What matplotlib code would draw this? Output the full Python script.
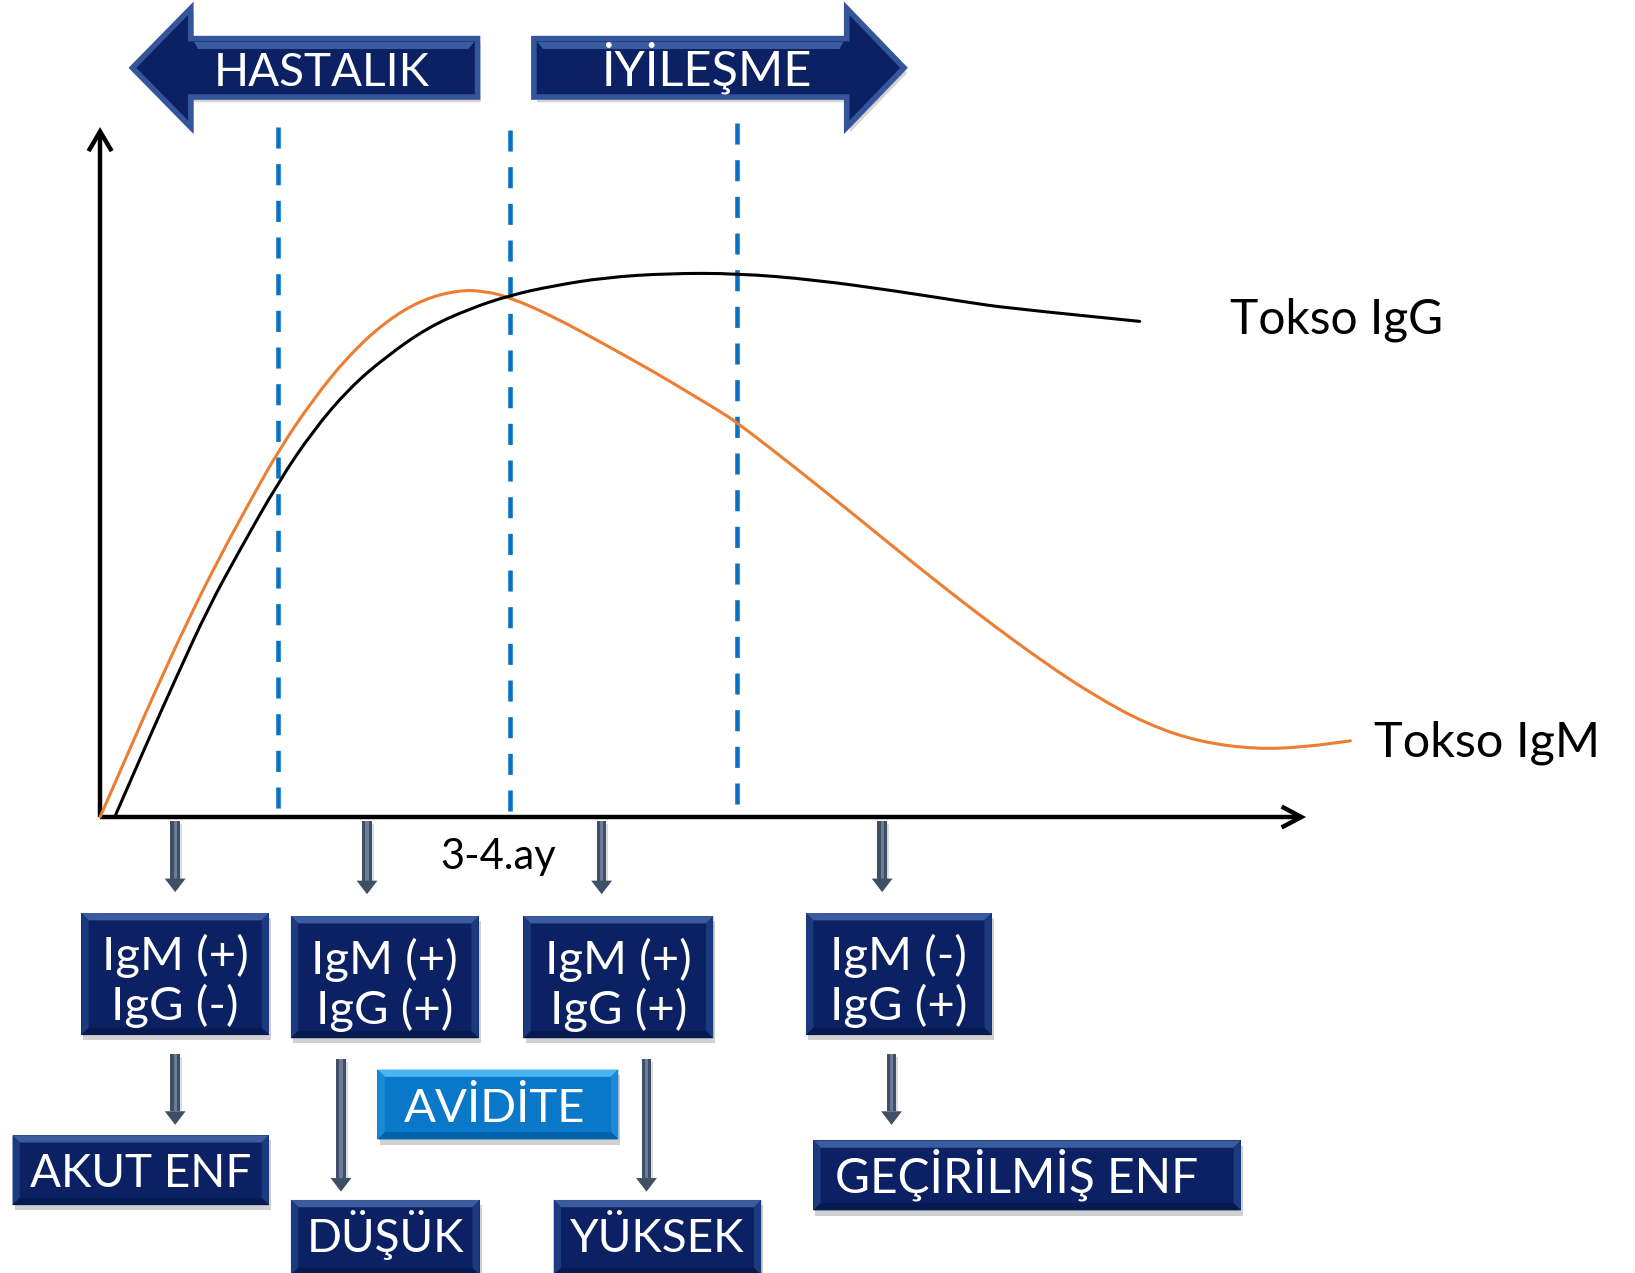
import matplotlib
matplotlib.use("Agg")
import matplotlib.pyplot as plt
from matplotlib.patches import Polygon, Rectangle, PathPatch
from matplotlib.path import Path

plt.rcParams['font.family'] = ['Lato', 'DejaVu Sans']

# ---------------- data (schematic coordinates, y grows downward) ----------------
igm_x = [96, 120, 150, 180, 210, 240, 267, 300, 335, 370, 405, 440, 465, 489, 530, 580, 630,
         660, 690, 707, 760, 820, 880, 940, 1000, 1050, 1100, 1150, 1205, 1250, 1295]
igm_y = [783, 728, 660, 595, 535, 480, 432, 383, 340, 308, 287, 278, 279, 285, 303, 330, 358,
         376, 394, 405, 446, 494, 543, 590, 634, 667, 694, 711, 718, 716, 710]

igg_x = [110, 140, 170, 200, 230, 267, 300, 335, 370, 410, 450, 489, 530, 580, 640, 707,
         780, 860, 930, 965, 1093]
igg_y = [783, 714, 647, 582, 527, 462, 413, 372, 342, 314, 296, 283, 274, 266, 262, 262,
         268, 279, 290, 295, 308]

phase_lines_x = [267, 489, 707]
phase_lines_top = [122, 125, 118]

curve_labels = ["Tokso IgG", "Tokso IgM"]
x_label = "3-4.ay"

phase_labels = ["HASTALIK", "İYİLEŞME"]

result_boxes = [  # (x0, y0, x1, y1, line1, line2)
    (78, 875, 258, 992, "IgM (+)", "IgG (-)"),
    (279, 878, 459, 995, "IgM (+)", "IgG (+)"),
    (502, 878, 684, 995, "IgM (+)", "IgG (+)"),
    (773, 875, 951, 992, "IgM (-)", "IgG (+)"),
]
outcome_boxes = [  # (x0, y0, x1, y1, text, text_center_x, fontsize)
    (12, 1088, 258, 1155, "AKUT ENF", 135, 33),
    (279, 1150, 460, 1222, "DÜŞÜK", 370, 33),
    (531, 1150, 730, 1222, "YÜKSEK", 630, 33),
    (780, 1093, 1190, 1160, "GEÇİRİLMİŞ ENF", 975, 34.5),
]
avidity_box = (362, 1025, 593, 1092, "AVİDİTE")

down_arrows = [  # (x, y_start, y_end)
    (168, 787, 855), (352, 787, 857), (577, 787, 857), (846, 787, 855),
    (168, 1010, 1078), (327, 1015, 1142), (620, 1015, 1142), (855, 1010, 1078),
]

W, H = 1568, 1220
fig = plt.figure(figsize=(16.35, 12.73), dpi=100)
ax = fig.add_axes([0, 0, 1, 1])
ax.set_xlim(0, W)
ax.set_ylim(H, 0)
ax.axis('off')

NAVY = '#0b2163'


def smooth_curve(xs, ys, color, lw, z):
    verts = [(xs[0], ys[0])]
    codes = [Path.MOVETO]
    for i in range(1, len(xs) - 1):
        verts.append((xs[i], ys[i]))
        verts.append(((xs[i] + xs[i + 1]) / 2, (ys[i] + ys[i + 1]) / 2))
        codes += [Path.CURVE3, Path.CURVE3]
    verts.append((xs[-1], ys[-1]))
    codes.append(Path.LINETO)
    ax.add_patch(PathPatch(Path(verts, codes), facecolor='none', edgecolor=color, lw=lw,
                           capstyle='round', zorder=z))


def bevel_box(x0, y0, x1, y1, face=NAVY, top='#3a5ba0', side='#1b3a80', bottom='#071a50', b=7):
    ax.add_patch(Rectangle((x0 + 2, y0 + 5), x1 - x0, y1 - y0, color='#9a9a9a', alpha=0.45, lw=0, zorder=3))
    ax.add_patch(Rectangle((x0, y0), x1 - x0, y1 - y0, color=face, lw=0, zorder=4))
    ax.add_patch(Polygon([(x0, y0), (x1, y0), (x1 - b, y0 + b), (x0 + b, y0 + b)], closed=True, color=top, lw=0, zorder=5))
    ax.add_patch(Polygon([(x0, y0), (x0 + b, y0 + b), (x0 + b, y1 - b), (x0, y1)], closed=True, color=side, lw=0, zorder=5))
    ax.add_patch(Polygon([(x1, y0), (x1 - b, y0 + b), (x1 - b, y1 - b), (x1, y1)], closed=True, color=side, lw=0, zorder=5))
    ax.add_patch(Polygon([(x0, y1), (x0 + b, y1 - b), (x1 - b, y1 - b), (x1, y1)], closed=True, color=bottom, lw=0, zorder=5))


def down_arrow(x, ys, ye, w=9, hw=20, hl=13):
    ax.add_patch(Rectangle((x - w / 2 + 2, ys + 3), w, ye - ys - hl, color='#bbbbbb', alpha=0.5, lw=0, zorder=2))
    ax.add_patch(Rectangle((x - w / 2, ys), w, ye - ys - hl, color='#3f4f66', lw=0, zorder=3))
    ax.add_patch(Rectangle((x - 1.5, ys), 3, ye - ys - hl, color='#6c7c96', lw=0, zorder=3))
    ax.add_patch(Polygon([(x - hw / 2, ye - hl), (x + hw / 2, ye - hl), (x, ye)], closed=True,
                         color='#3f4f66', lw=0, zorder=3))


# ---------------- axes with arrowheads ----------------
ox, oy = 96, 783
ax.plot([ox, ox], [oy, 127], color='black', lw=3.2, solid_capstyle='butt', zorder=6)
ax.plot([ox, 1246], [oy, oy], color='black', lw=3.2, solid_capstyle='butt', zorder=6)
ax.plot([ox - 10, ox, ox + 10], [143, 126, 143], color='black', lw=3.2, solid_joinstyle='miter', zorder=6)
ax.plot([1231, 1248, 1231], [774, oy, 792], color='black', lw=3.2, solid_joinstyle='miter', zorder=6)

# ---------------- dashed phase lines ----------------
for px, pt in zip(phase_lines_x, phase_lines_top):
    ax.plot([px, px], [pt, oy], color='#0a72c4', lw=3.3, dashes=(4.6, 3.4), zorder=5)

# ---------------- curves ----------------
smooth_curve(igm_x, igm_y, '#ed7d31', 2.2, 6)
smooth_curve(igg_x, igg_y, 'black', 2.2, 7)

ax.text(1180, 320, curve_labels[0], fontsize=34.5, color='black', ha='left', va='baseline', zorder=8)
ax.text(1318, 725, curve_labels[1], fontsize=35, color='black', ha='left', va='baseline', zorder=8)
ax.text(478, 833, x_label, fontsize=30, color='black', ha='center', va='baseline', zorder=8)

# ---------------- top phase arrows ----------------
left_arrow = [(127, 65), (183, 8), (183, 37), (458, 37), (458, 93), (183, 93), (183, 122)]
right_arrow = [(867, 65), (812, 8), (812, 37), (512, 37), (512, 93), (812, 93), (812, 122)]
for pts in (left_arrow, right_arrow):
    ax.add_patch(Polygon([(x + 3, y + 5) for x, y in pts], closed=True, color='#a0a0a0', alpha=0.45, lw=0, zorder=3))
    ax.add_patch(Polygon(pts, closed=True, facecolor=NAVY, edgecolor='#34559c', lw=4, joinstyle='miter', zorder=4))
ax.add_patch(Polygon([(186, 40), (455, 40), (449, 47), (190, 47)], closed=True, color='#3a5ba0', lw=0, zorder=5))
ax.add_patch(Polygon([(515, 40), (809, 40), (805, 47), (521, 47)], closed=True, color='#3a5ba0', lw=0, zorder=5))
ax.text(309, 82, phase_labels[0], fontsize=33, color='white', ha='center', va='baseline', zorder=9)
ax.text(677, 82, phase_labels[1], fontsize=35, color='white', ha='center', va='baseline', zorder=9)

# ---------------- down arrows ----------------
for x, ys, ye in down_arrows:
    down_arrow(x, ys, ye)

# ---------------- result boxes ----------------
for x0, y0, x1, y1, l1, l2 in result_boxes:
    bevel_box(x0, y0, x1, y1)
    cx = (x0 + x1) / 2
    ax.text(cx, y0 + 55, l1, fontsize=34, color='white', ha='center', va='baseline', zorder=9)
    ax.text(cx, y0 + 103, l2, fontsize=34, color='white', ha='center', va='baseline', zorder=9)

for x0, y0, x1, y1, t, tx, fs in outcome_boxes:
    bevel_box(x0, y0, x1, y1)
    ax.text(tx, y0 + 50, t, fontsize=fs, color='white', ha='center', va='baseline', zorder=9)

x0, y0, x1, y1, t = avidity_box
bevel_box(x0, y0, x1, y1, face='#0a78c8', top='#49b4f4', side='#1a8ad6', bottom='#0062aa')
ax.text(474, y0 + 50, t, fontsize=34, color='white', ha='center', va='baseline', zorder=9)

fig.savefig('out.png', dpi=100)
